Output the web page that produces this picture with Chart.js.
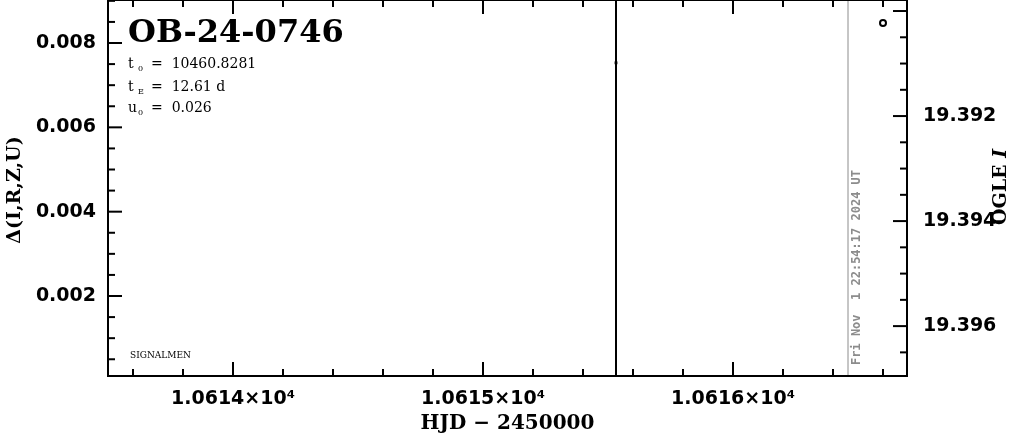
<!DOCTYPE html>
<html>
<head>
<meta charset="utf-8">
<script src="https://cdn.jsdelivr.net/npm/chart.js@4/dist/chart.umd.min.js"></script>
<style>
  html, body { margin: 0; padding: 0; background: #fff; }
  canvas { display: block; }
</style>
</head>
<body>
<canvas id="lc" width="1011" height="434"></canvas>
<script>
// ======== DATA ========
const eventName = "OB-24-0746";
const t0Text = "10460.8281";
const tEText = "12.61 d";
const u0Text = "0.026";
const nowLabel = "Fri Nov  1 22:54:17 2024 UT";
const footerTag = "SIGNALMEN";

const hjdRange = [10613.5, 10616.696];
const deltaRange = [0.000103, 0.00902];
const ogleRange = [19.38979, 19.39695];

const hjdTicks = [10614, 10615, 10616];
const deltaTicks = [0.002, 0.004, 0.006, 0.008];
const ogleTicks = [19.392, 19.394, 19.396];

// Δ(I,R,Z,U) points
const deltaHJD = [10615.532];
const deltaVal = [0.00753];

// OGLE I photometry
const ogleHJD = [10616.60];
const ogleMag = [19.39023];

// vertical markers
const markerHJD = 10615.532;
const nowHJD = 10616.46;

// ======== PLUGINS ========
function drawTicks(ctx, scale, step, majorStep, side, a) {
  const lo = Math.min(scale.min, scale.max), hi = Math.max(scale.min, scale.max);
  const i0 = Math.ceil(lo / step - 1e-9), i1 = Math.floor(hi / step + 1e-9);
  for (let i = i0; i <= i1; i++) {
    const v = i * step;
    const r = v / majorStep;
    const major = Math.abs(r - Math.round(r)) < 1e-6;
    const len = major ? 14 : 7;
    const p = scale.getPixelForValue(v);
    ctx.beginPath();
    if (side === "bottom") { ctx.moveTo(p, a.bottom); ctx.lineTo(p, a.bottom - len); }
    if (side === "top") { ctx.moveTo(p, a.top); ctx.lineTo(p, a.top + len); }
    if (side === "left") { ctx.moveTo(a.left, p); ctx.lineTo(a.left + len, p); }
    if (side === "right") { ctx.moveTo(a.right, p); ctx.lineTo(a.right - len, p); }
    ctx.stroke();
  }
}

const frame = {
  id: "frame",
  afterDatasetsDraw(chart) {
    const { ctx, chartArea: a, scales } = chart;
    ctx.save();
    ctx.strokeStyle = "#000";
    ctx.lineWidth = 2;
    ctx.strokeRect(a.left, a.top, a.right - a.left, a.bottom - a.top);
    drawTicks(ctx, scales.x, 0.2, 1, "bottom", a);
    drawTicks(ctx, scales.x, 0.2, 1, "top", a);
    drawTicks(ctx, scales.y, 0.0005, 0.002, "left", a);
    drawTicks(ctx, scales.y2, 0.0005, 0.002, "right", a);
    ctx.restore();
  }
};

const labels = {
  id: "labels",
  afterDraw(chart) {
    const { ctx, chartArea: a, scales } = chart;
    ctx.save();
    ctx.fillStyle = "#000";

    // event name + parameters
    ctx.textAlign = "left";
    ctx.textBaseline = "alphabetic";
    ctx.font = "bold 32px 'DejaVu Serif'";
    ctx.fillText(eventName, 128, 42);

    const rows = [["0", t0Text, 68], ["E", tEText, 91], ["0", u0Text, 112]];
    rows.forEach(([sub, val, y], k) => {
      ctx.font = "14px 'DejaVu Serif'";
      ctx.fillText(k === 2 ? "u" : "t", 128, y);
      ctx.font = "8px 'DejaVu Serif'";
      ctx.fillText(sub, 138, y + 3);
      ctx.font = "14px 'DejaVu Serif'";
      ctx.fillText("=  " + val, 151, y);
    });

    ctx.font = "9px 'DejaVu Serif'";
    ctx.fillText(footerTag, 130, 358);

    // x title
    ctx.font = "bold 20px 'DejaVu Serif'";
    ctx.textAlign = "center";
    ctx.textBaseline = "middle";
    ctx.fillText("HJD \u2212 2450000", (a.left + a.right) / 2, 424);

    // left title
    ctx.save();
    ctx.translate(15, 190);
    ctx.rotate(-Math.PI / 2);
    ctx.font = "bold 19px 'DejaVu Serif'";
    ctx.fillText("\u0394(I,R,Z,U)", 0, 0);
    ctx.restore();

    // right title
    ctx.save();
    ctx.translate(1001, 187);
    ctx.rotate(-Math.PI / 2);
    ctx.font = "bold 19px 'DejaVu Serif'";
    const w1 = ctx.measureText("OGLE ").width;
    ctx.font = "italic bold 19px 'DejaVu Serif'";
    const w2 = ctx.measureText("I").width;
    ctx.textAlign = "left";
    ctx.font = "bold 19px 'DejaVu Serif'";
    ctx.fillText("OGLE ", -(w1 + w2) / 2, 0);
    ctx.font = "italic bold 19px 'DejaVu Serif'";
    ctx.fillText("I", -(w1 + w2) / 2 + w1, 0);
    ctx.restore();

    // current time stamp
    ctx.save();
    const nx = scales.x.getPixelForValue(nowHJD);
    ctx.translate(nx + 9, a.bottom - 11);
    ctx.rotate(-Math.PI / 2);
    ctx.textAlign = "left";
    ctx.fillStyle = "#8c8c8c";
    ctx.font = "bold 12px 'DejaVu Sans Mono'";
    ctx.fillText(nowLabel, 0, 0);
    ctx.restore();

    ctx.restore();
  }
};

// ======== CHART ========
Chart.defaults.color = "#000";
Chart.defaults.font.family = "'DejaVu Sans'";

function fitH(s) { s.height = 58; s.paddingLeft = 0; s.paddingRight = 0; }
function fitV(w) {
  return s => { s.width = w; s.paddingTop = 0; s.paddingBottom = 0; };
}

new Chart(document.getElementById("lc"), {
  type: "scatter",
  data: {
    datasets: [
      {
        label: "now",
        data: [{ x: nowHJD, y: deltaRange[0] }, { x: nowHJD, y: deltaRange[1] }],
        showLine: true, borderColor: "#8c8c8c", borderWidth: 1, pointRadius: 0, yAxisID: "y"
      },
      {
        label: "marker",
        data: [{ x: markerHJD, y: deltaRange[0] }, { x: markerHJD, y: deltaRange[1] }],
        showLine: true, borderColor: "#000", borderWidth: 2, pointRadius: 0, yAxisID: "y"
      },
      {
        label: "delta",
        data: deltaHJD.map((x, i) => ({ x, y: deltaVal[i] })),
        pointStyle: "rect", pointRadius: 2, backgroundColor: "#000", borderColor: "#000", borderWidth: 0,
        yAxisID: "y"
      },
      {
        label: "OGLE I",
        data: ogleHJD.map((x, i) => ({ x, y: ogleMag[i] })),
        pointStyle: "circle", pointRadius: 3, backgroundColor: "#fff", borderColor: "#000", borderWidth: 2,
        yAxisID: "y2"
      }
    ]
  },
  options: {
    responsive: false,
    animation: false,
    events: [],
    layout: { padding: 0, autoPadding: false },
    plugins: { legend: { display: false }, tooltip: { enabled: false } },
    scales: {
      x: {
        type: "linear", position: "bottom",
        min: hjdRange[0], max: hjdRange[1],
        afterBuildTicks: s => { s.ticks = hjdTicks.map(v => ({ value: v })); },
        afterFit: fitH,
        grid: { display: false, drawTicks: false },
        border: { display: false },
        ticks: {
          font: { size: 19, weight: "bold" }, padding: 12, maxRotation: 0,
          callback: v => (v / 1e4).toFixed(4) + "\u00d710\u2074"
        }
      },
      y: {
        type: "linear", position: "left",
        min: deltaRange[0], max: deltaRange[1],
        afterBuildTicks: s => { s.ticks = deltaTicks.map(v => ({ value: v })); },
        afterFit: fitV(108),
        grid: { display: false, drawTicks: false },
        border: { display: false },
        ticks: { font: { size: 19, weight: "bold" }, padding: 12, callback: v => v.toFixed(3) }
      },
      y2: {
        type: "linear", position: "right", reverse: true,
        min: ogleRange[0], max: ogleRange[1],
        afterBuildTicks: s => { s.ticks = ogleTicks.map(v => ({ value: v })); },
        afterFit: fitV(104),
        grid: { display: false, drawTicks: false },
        border: { display: false },
        ticks: { font: { size: 19, weight: "bold" }, padding: 16, callback: v => v.toFixed(3) }
      }
    }
  },
  plugins: [frame, labels]
});
</script>
</body>
</html>
